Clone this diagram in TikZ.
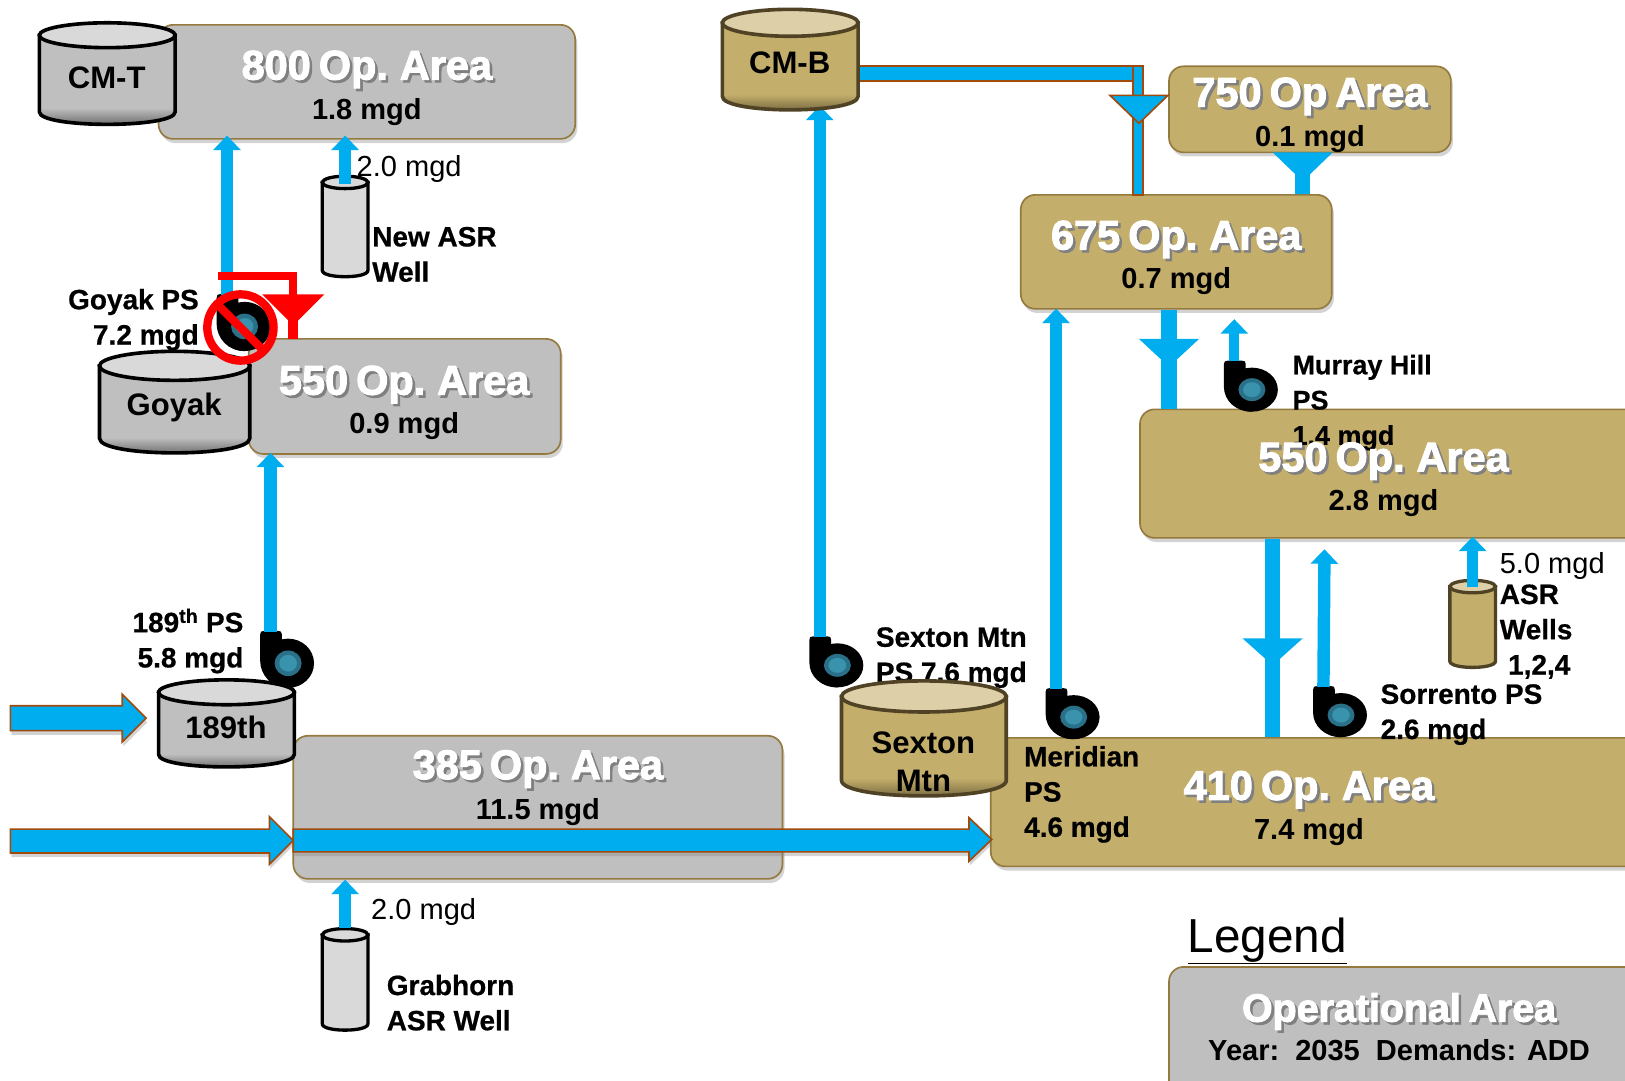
\documentclass[tikz,border=0pt]{standalone}
\usepackage{fontspec}
\setmainfont{Liberation Sans}
\newfontfamily\ttlfont[FakeBold=2.4,WordSpace=0.7]{Liberation Sans Bold}
\newfontfamily\labfont[FakeBold=0.6]{Liberation Sans Bold}
\usetikzlibrary{arrows.meta,shadows,calc}
\definecolor{flow}{HTML}{00AEEF}
\definecolor{pipeedge}{HTML}{A04A0C}
\definecolor{edgec}{HTML}{947A3F}
\definecolor{greyfill}{HTML}{BFBFBF}
\definecolor{tanfill}{HTML}{C4AE6B}
\definecolor{tantop}{HTML}{DDCFA8}
\definecolor{tanline}{HTML}{4F4225}
\definecolor{greytop}{HTML}{D9D9D9}
\definecolor{voluteA}{HTML}{2A7088}
\definecolor{voluteB}{HTML}{3A93AC}
\pgfdeclareverticalshading{cylgrey}{100bp}{color(0bp)=(black!72!white); color(25bp)=(black!72!white); color(29bp)=(black!50!white); color(36bp)=(greyfill); color(100bp)=(greyfill)}
\pgfdeclareverticalshading{cyltan}{100bp}{color(0bp)=(tanfill!40!black); color(25bp)=(tanfill!40!black); color(29bp)=(tanfill!70!black); color(36bp)=(tanfill); color(100bp)=(tanfill)}
\pgfdeclareverticalshading{wellgrey}{100bp}{color(0bp)=(greytop); color(100bp)=(greytop)}
\pgfdeclareverticalshading{welltan}{100bp}{color(0bp)=(tanfill); color(100bp)=(tanfill)}
\tikzset{
  x=1pt,y=-1pt,
  opbox/.style={draw=edgec,line width=1.6pt,rounded corners=14pt,drop shadow={shadow xshift=2pt,shadow yshift=-4pt,opacity=.35}},
  greybox/.style={opbox,fill=greyfill},
  tanbox/.style={opbox,fill=tanfill},
  ttl/.style={font=\fontsize{40}{44}\selectfont\ttlfont,text=white,inner sep=0pt,yshift=-3pt},
  sub/.style={font=\fontsize{28}{30}\selectfont\bfseries,inner sep=0pt,yshift=-3pt},
  lab/.style={font=\fontsize{27}{34}\selectfont\labfont,inner sep=0pt,yshift=-2.5pt},
  qty/.style={font=\fontsize{28}{32}\selectfont,inner sep=0pt,yshift=-3pt},
  cyltext/.style={font=\fontsize{30}{36}\selectfont\bfseries,inner sep=0pt,align=center,yshift=-1pt},
  pipe/.style={draw=flow,line width=12pt,-{Triangle[width=26pt,length=14pt]}},
  thinpipe/.style={pipe,line width=10pt},
  bigarrow/.style={fill=flow,draw=pipeedge,line width=1.6pt,drop shadow={shadow xshift=1pt,shadow yshift=-4pt,opacity=.35}},
}
\newcommand{\shtext}[1]{\leavevmode\rlap{\raisebox{-2.5pt}[0pt][0pt]{\hspace{2.5pt}\textcolor{black!50}{#1}}}#1}
% x1 ytop x2 ybottom ry shading line top linewidth
\newcommand{\cylshape}[9]{%
  \pgfmathsetmacro{\cyc}{(#1+#3)/2}\pgfmathsetmacro{\cyrx}{(#3-#1)/2}%
  \pgfmathsetmacro{\cyt}{#2+#5}\pgfmathsetmacro{\cyb}{#4-#5}%
  \pgfmathsetmacro{\cyq}{#4+#5/3}%
  \path[shading=#6,draw=#7,line width=#9] (#1,\cyt) -- (#1,\cyb) .. controls (#1,\cyq) and (#3,\cyq) .. (#3,\cyb) -- (#3,\cyt) -- cycle;
  \draw[draw=#7,fill=#8,line width=#9] (\cyc,\cyt) ellipse [x radius=\cyrx,y radius=#5];
}
% name cx cy yscale
\newcommand{\pump}[4]{%
  \begin{scope}[shift={(#2,#3)},yscale=#4]
    \coordinate (#1) at (-17,-32);
    \fill[black] (0,0) circle [radius=25];
    \fill[black] (-27,-29) .. controls (-27,-32) and (-26,-33) .. (-23,-33) -- (-10,-33) .. controls (-7,-33) and (-6,-32) .. (-6,-29) -- (-6,-20) -- (0,25) .. controls (-16,25) and (-27,12) .. (-27,-3) -- cycle;
    \fill[voluteA] (0,0) circle [radius=13];
    \fill[voluteB] (0,0) circle [radius=8.5];
  \end{scope}}
% cx ytop halfwidth apexy colour
\newcommand{\funnel}[5]{\fill[#5] (#1-#3,#2) -- (#1+#3,#2) -- (#1,#4) -- cycle;}
\begin{document}
\begin{tikzpicture}
\useasboundingbox (0,0) rectangle (1568,1043);
\clip (0,0) rectangle (1568,1043);

% ---- operational-area boxes
\node[greybox,minimum width=402pt,minimum height=110pt] (b800) at (354,79) {};
\node[greybox,minimum width=301pt,minimum height=111pt] (b550l) at (390.5,382.5) {};
\node[greybox,minimum width=472pt,minimum height=138pt] (b385) at (519,779) {};
\node[tanbox,minimum width=272pt,minimum height=83pt] (b750) at (1264,105.5) {};
\node[tanbox,minimum width=300pt,minimum height=110pt] (b675) at (1135,243) {};
\node[tanbox,minimum width=500pt,minimum height=124pt] (b550r) at (1350,457) {};
\node[tanbox,minimum width=640pt,minimum height=124pt] (b410) at (1276,774) {};
\node[greybox,minimum width=470pt,minimum height=128pt] (blegend) at (1363,997) {};

% ---- big supply arrows
\path[bigarrow] (10,681) -- (118,681) -- (118,670) -- (141,693) -- (118,716) -- (118,705) -- (10,705) -- cycle;
\path[bigarrow] (10,800) -- (260,800) -- (260,788) -- (283,811) -- (260,834) -- (260,823) -- (10,823) -- cycle;
\path[bigarrow] (283,800) -- (935,800) -- (935,789) -- (957,810) -- (935,831) -- (935,822) -- (283,822) -- cycle;

% ---- CM-B main and reducing funnels
\path[fill=flow,draw=pipeedge,line width=1.6pt] (828,64) -- (1103,64) -- (1103,188) -- (1093,188) -- (1093,78) -- (828,78) -- cycle;
\draw[pipeedge,line width=1.6pt] (1093,64) -- (1093,78);
\path[fill=flow,draw=pipeedge,line width=1.6pt] (1071,92) -- (1127,92) -- (1099,119) -- cycle;
\draw[flow,line width=14pt] (1257,150) -- (b750.south -| 1257,0) -- (b675.north -| 1257,0);
\funnel{1257}{147}{29}{175}{flow}
\draw[flow,line width=16pt] (b675.south -| 1128,0) -- (b550r.north -| 1128,0);
\funnel{1128}{327}{29}{354}{flow}
\draw[flow,line width=14pt] (b550r.south -| 1228,0) -- (b410.north -| 1228,0);
\funnel{1228}{616}{29}{642}{flow}

% ---- pumps with discharge arrows
\pump{p189}{278}{640}{.95}
\pump{pgoyak}{236}{315}{.95}
\pump{psexton}{808}{642}{.85}
\pump{pmeridian}{1036}{692}{.85}
\pump{psorrento}{1294}{690}{.85}
\pump{pmurray}{1208}{376}{.85}
\draw[pipe] (p189) -- ([yshift=2pt]b550l.south -| p189);
\draw[pipe] (pgoyak) -- ([yshift=4pt]b800.south -| pgoyak);
\draw[pipe] (psexton) -- (791,102);
\draw[pipe] (pmeridian) -- ([yshift=1pt]b675.south -| pmeridian);
\draw[pipe] (psorrento) -- (1278,530);
\draw[thinpipe] (pmurray) -- (1191,308);

% ---- labels that lie behind tanks
\node[lab,anchor=west,align=left] (tsexton) at (845,632) {Sexton Mtn\\PS 7.6 mgd};

% ---- tanks
\cylshape{38}{22}{169}{120}{12}{cylgrey}{black}{greytop}{3.5pt}
\node[cyltext] (cmt) at (103,74) {CM-T};
\cylshape{96}{339}{241}{437}{14}{cylgrey}{black}{greytop}{3.5pt}
\node[cyltext] (goyak) at (168,392) {Goyak};
\cylshape{153}{656}{284}{740}{12}{cylgrey}{black}{greytop}{3.5pt}
\node[cyltext] (t189) at (218,701) {189th};
\cylshape{697}{9}{828}{106}{13}{cyltan}{tanline}{tantop}{3.5pt}
\node[cyltext] (cmb) at (762,60) {CM-B};
\cylshape{812}{657}{971}{768}{15}{cyltan}{tanline}{tantop}{3.5pt}
\node[cyltext] (sexton) at (891,734) {Sexton\\Mtn};

% ---- wells
\cylshape{311}{170}{355}{267}{6}{wellgrey}{black}{greytop}{3.2pt}
\cylshape{311}{896}{355}{994}{6}{wellgrey}{black}{greytop}{3.2pt}
\cylshape{1399}{560}{1443}{644}{6}{welltan}{tanline}{tantop}{3.2pt}
\coordinate (wnew) at (333,178);
\coordinate (wgrab) at (333,895);
\coordinate (wasr) at (1421,566);
\draw[pipe] (wnew) -- ([yshift=4pt]b800.south -| wnew);
\draw[pipe] (wgrab) -- (b385.south -| wgrab);
\draw[thinpipe] (wasr) -- ([yshift=2pt]b550r.south -| wasr);

% ---- red out-of-service overlay
\draw[red,line width=8pt] (210,266) -- (283,266) -- (283,290);
\funnel{283}{284}{30}{314}{red}
\draw[red,line width=10pt] (283,300) -- (283,327);
\draw[red,line width=8pt] (232,316) circle [radius=32];
\draw[red,line width=8pt] (210,294) -- (254,338);

% ---- box titles
\node[ttl] (t800) at (354,64) {\shtext{800 Op. Area}};
\node[sub] (s800) at (354,105) {1.8 mgd};
\node[ttl] (t550l) at (390,368) {\shtext{550 Op. Area}};
\node[sub] (s550l) at (390,408) {0.9 mgd};
\node[ttl] (t385) at (519,739) {\shtext{385 Op. Area}};
\node[sub] (s385) at (519,781) {11.5 mgd};
\node[ttl] (t750) at (1264,90) {\shtext{750 Op Area}};
\node[sub] (s750) at (1264,131) {0.1 mgd};
\node[ttl] (t675) at (1135,228) {\shtext{675 Op. Area}};
\node[sub] (s675) at (1135,268) {0.7 mgd};
\node[lab,font=\fontsize{26}{34}\selectfont\labfont,anchor=west,align=left] (tmurray) at (1247,386) {Murray Hill\\PS\\1.4 mgd};
\node[ttl] (t550r) at (1335,442) {\shtext{550 Op. Area}};
\node[sub] (s550r) at (1335,482) {2.8 mgd};
\node[ttl] (t410) at (1263,759) {\shtext{410 Op. Area}};
\node[sub] (s410) at (1263,800) {7.4 mgd};

% ---- other labels
\node[lab,anchor=east,align=right] (tgoyak) at (192,306) {Goyak PS\\7.2 mgd};
\node[lab,anchor=east,align=right] (t189ps) at (235,616) {189\textsuperscript{th} PS\\5.8 mgd};
\node[qty,anchor=west] (q1) at (344,160) {2.0 mgd};
\node[lab,anchor=west,align=left] (tnew) at (359,243) {New ASR\\Well};
\node[qty,anchor=west] (q2) at (358,877) {2.0 mgd};
\node[lab,anchor=west,align=left] (tgrab) at (373,965) {Grabhorn\\ASR Well};
\node[qty,anchor=west] (q3) at (1447,543) {5.0 mgd};
\node[lab,anchor=west,align=left] (tasr) at (1447,588) {ASR\\Wells};
\node[lab,anchor=west] (tasr2) at (1455,641) {1,2,4};
\node[lab,anchor=west,align=left] (tsorr) at (1332,687) {Sorrento PS\\2.6 mgd};
\node[lab,anchor=west,align=left] (tmer) at (988,764) {Meridian\\PS\\4.6 mgd};

% ---- legend
\node[font=\fontsize{46}{50}\selectfont,inner sep=0pt] (leg) at (1223,908) {\underline{Legend}};
\node[ttl,font=\fontsize{38}{42}\selectfont\ttlfont] (tl) at (1350,973) {\shtext{Operational Area}};
\node[sub] (sl) at (1350,1010) {Year:\ \ 2035\ \ Demands: ADD};
\end{tikzpicture}
\end{document}
